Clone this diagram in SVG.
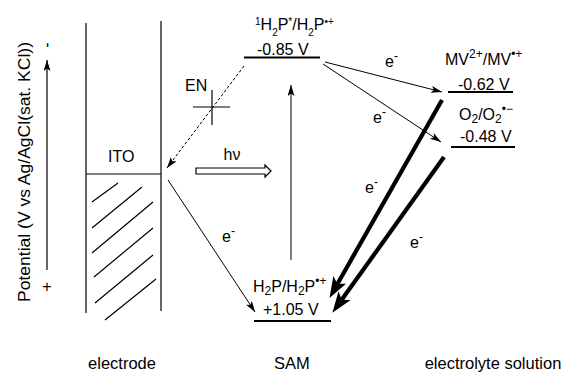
<svg xmlns="http://www.w3.org/2000/svg" width="563" height="374" viewBox="0 0 563 374">
<style>
text{font-family:"Liberation Sans",Arial,sans-serif;font-size:16px;fill:#000}
.ln{stroke:#000;stroke-width:1.2;fill:none}
.lvl{stroke:#000;stroke-width:1.8;fill:none}
.thin{stroke:#000;stroke-width:1;fill:none;marker-end:url(#ah)}
.thick{stroke:#000;stroke-width:4.2;fill:none;marker-end:url(#bh)}
.big{font-size:16.5px}
</style>
<defs>
<marker id="ah" markerUnits="userSpaceOnUse" markerWidth="12" markerHeight="8" refX="11" refY="3.5" orient="auto">
<path d="M0,0 L11,3.5 L0,7 L2.5,3.5 z" fill="#000"/>
</marker>
<marker id="bh" markerUnits="userSpaceOnUse" markerWidth="22" markerHeight="16" refX="5" refY="7.5" orient="auto">
<path d="M0,0 L21,7.5 L0,15 L5,7.5 z" fill="#000"/>
</marker>
</defs>

<g id="axis">
<line class="ln" x1="47" y1="270" x2="47" y2="60" marker-end="url(#ah)"/>
<text transform="translate(52,45) rotate(-90)" text-anchor="middle">-</text>
<text x="47" y="292" text-anchor="middle">+</text>
<text transform="translate(30,172) rotate(-90)" text-anchor="middle" font-size="17.5" textLength="260" lengthAdjust="spacingAndGlyphs">Potential (V vs Ag/AgCl(sat. KCl))</text>
</g>

<g id="electrode">
<line class="ln" x1="86" y1="23" x2="86" y2="313"/>
<line class="ln" x1="161" y1="21" x2="161" y2="311"/>
<line class="ln" x1="86" y1="174" x2="161" y2="174"/>
<path class="ln" d="M92,202 L118,183 M92,228 L142,187 M92,253 L153,202 M94,277 L153,228 M95,303 L153,255 M105,320 L156,279"/>
<text x="108" y="162">ITO</text>
<text x="122" y="369" text-anchor="middle" class="big">electrode</text>
</g>

<g id="sam-excited">
<text x="255" y="30" font-size="15"><tspan font-size="10" baseline-shift="super">1</tspan>H<tspan font-size="10" baseline-shift="sub">2</tspan>P<tspan font-size="10" baseline-shift="super">*</tspan>/H<tspan font-size="10" baseline-shift="sub">2</tspan>P<tspan font-size="10" baseline-shift="super">•+</tspan></text>
<text x="257" y="55">-0.85 V</text>
<line class="lvl" x1="244" y1="57.5" x2="320" y2="57.5"/>
</g>

<g id="sam-ground">
<text x="253" y="292" font-size="17">H<tspan font-size="12" baseline-shift="-3">2</tspan>P/H<tspan font-size="12" baseline-shift="-3">2</tspan>P<tspan font-size="12" baseline-shift="super">•+</tspan></text>
<text x="263" y="315">+1.05 V</text>
<line class="lvl" x1="254" y1="321" x2="331" y2="321"/>
<text x="292" y="369" text-anchor="middle" class="big">SAM</text>
</g>

<g id="mv">
<text x="445" y="65">MV<tspan font-size="12" baseline-shift="super">2+</tspan>/MV<tspan font-size="12" baseline-shift="super">•+</tspan></text>
<text x="458" y="90">-0.62 V</text>
<line class="lvl" x1="448" y1="92" x2="513" y2="92"/>
</g>

<g id="o2">
<text x="459" y="120">O<tspan font-size="12" baseline-shift="-2.5">2</tspan>/O<tspan font-size="12" baseline-shift="-2.5">2</tspan><tspan font-size="12" baseline-shift="super">•−</tspan></text>
<text x="460" y="142">-0.48 V</text>
<line class="lvl" x1="451" y1="147" x2="515" y2="147"/>
</g>

<g id="electrolyte">
<text x="493" y="369" text-anchor="middle" class="big">electrolyte solution</text>
</g>

<g id="en-block">
<text x="185" y="91">EN</text>
<line class="ln" x1="212" y1="90" x2="212" y2="125"/>
<line class="ln" x1="193" y1="107" x2="230" y2="107"/>
</g>

<g id="hv">
<path d="M196,168 L265,168 L265,165 L271,171 L265,177 L265,174 L196,174 Z" fill="#fff" stroke="#000" stroke-width="1.2"/>
<text x="232" y="160" text-anchor="middle">hν</text>
</g>

<g id="connectors">
<line x1="244" y1="66" x2="167" y2="168" stroke="#000" stroke-width="1" stroke-dasharray="3,2" marker-end="url(#ah)"/>
<line class="thin" x1="168" y1="180" x2="255" y2="312"/>
<line class="thin" x1="291" y1="260" x2="291" y2="85"/>
<line class="thin" x1="325" y1="62" x2="442" y2="92"/>
<line class="thin" x1="323" y1="64" x2="441" y2="142"/>
<line class="thick" x1="442" y1="100" x2="337.4" y2="284"/>
<line class="thick" x1="444" y1="157" x2="341.7" y2="299.8"/>
</g>

<g id="labels-e">
<text x="222" y="242">e<tspan font-size="12" baseline-shift="super">-</tspan></text>
<text x="385" y="67">e<tspan font-size="12" baseline-shift="super">-</tspan></text>
<text x="373" y="123">e<tspan font-size="12" baseline-shift="super">-</tspan></text>
<text x="365" y="193">e<tspan font-size="12" baseline-shift="super">-</tspan></text>
<text x="410" y="248">e<tspan font-size="12" baseline-shift="super">-</tspan></text>
</g>
</svg>
